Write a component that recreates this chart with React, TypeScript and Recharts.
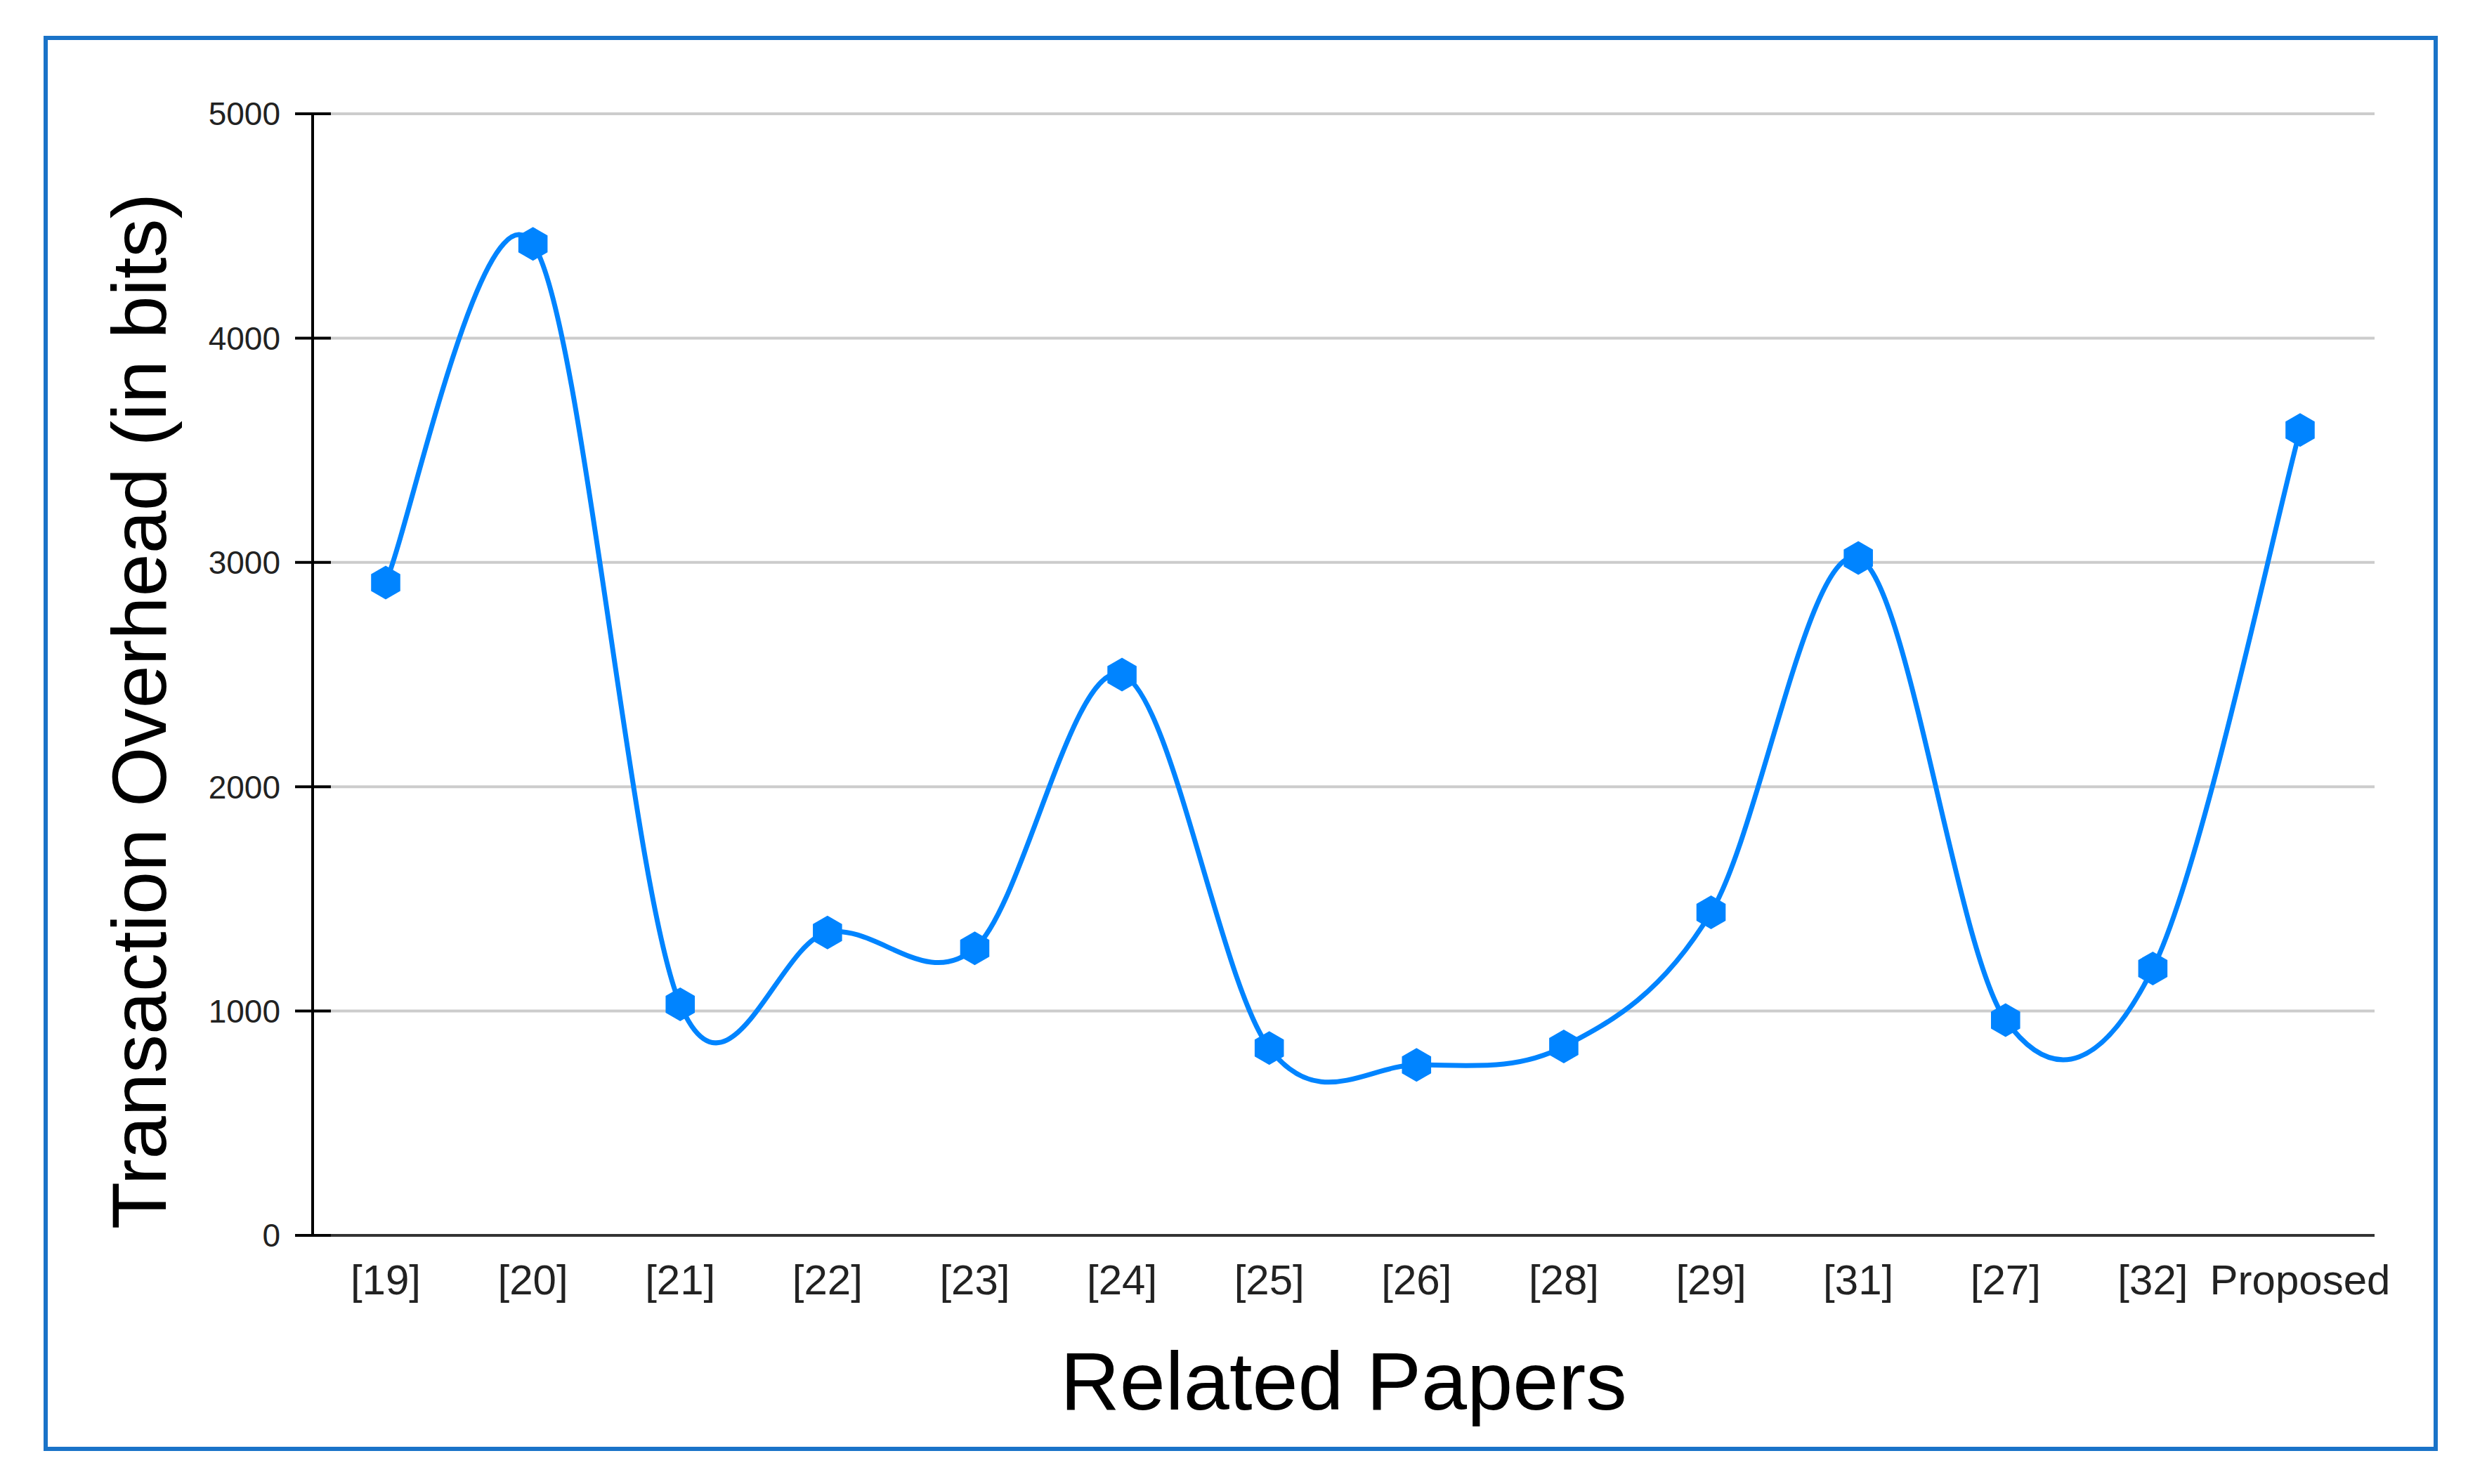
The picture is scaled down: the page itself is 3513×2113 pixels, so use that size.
import { LineChart, Line, XAxis, YAxis, CartesianGrid } from "recharts";

const categories = ["[19]", "[20]", "[21]", "[22]", "[23]", "[24]", "[25]", "[26]", "[28]", "[29]", "[31]", "[27]", "[32]", "Proposed"];
const overheadBits = [2910, 4420, 1030, 1350, 1280, 2500, 835, 760, 842, 1440, 3020, 960, 1190, 3590];
const yTicks = [0, 1000, 2000, 3000, 4000, 5000];

const data = categories.map((paper, i) => ({ paper, bits: overheadBits[i] }));

const FONT = '"Liberation Sans", Arial, sans-serif';
const BLUE = "#0084ff";

// Catmull-Rom style spline that passes through every point
function smoothCurve(context: any) {
  let pts: [number, number][] = [];
  return {
    areaStart() {},
    areaEnd() {},
    lineStart() {
      pts = [];
    },
    point(x: number, y: number) {
      pts.push([+x, +y]);
    },
    lineEnd() {
      const n = pts.length;
      if (!n) return;
      context.moveTo(pts[0][0], pts[0][1]);
      for (let i = 0; i < n - 1; i++) {
        const p0 = pts[i - 1] || pts[i];
        const p1 = pts[i];
        const p2 = pts[i + 1];
        const p3 = pts[i + 2] || p2;
        context.bezierCurveTo(
          p1[0] + (p2[0] - p0[0]) / 6,
          p1[1] + (p2[1] - p0[1]) / 6,
          p2[0] - (p3[0] - p1[0]) / 6,
          p2[1] - (p3[1] - p1[1]) / 6,
          p2[0],
          p2[1]
        );
      }
    },
  };
}

const HexDot = (props: any) => {
  const { cx, cy, index } = props;
  if (cx == null || cy == null) return null;
  const r = 24;
  const pts = [0, 1, 2, 3, 4, 5]
    .map((k) => {
      const a = (Math.PI / 180) * (60 * k - 90);
      return `${cx + r * Math.cos(a)},${cy + r * Math.sin(a)}`;
    })
    .join(" ");
  return <polygon key={`dot-${index}`} points={pts} fill={BLUE} />;
};

// y tick: label plus a tick mark that crosses the axis
const YTick = (props: any) => {
  const { x, y, payload } = props;
  return (
    <g>
      <line x1={x + 21} x2={x + 72} y1={y} y2={y} stroke="#000" strokeWidth={4} />
      <text x={x} y={y} dy="0.355em" textAnchor="end" fontSize={46} fill="#222" fontFamily={FONT}>
        {payload.value}
      </text>
    </g>
  );
};

const renderYTitle = (props: any) => {
  const vb = props && props.viewBox ? props.viewBox : { x: 0, y: 105, width: 377, height: 1597 };
  const x = vb.x + 168;
  const y = vb.y + vb.height / 2 + 52;
  return (
    <text x={x} y={y} transform={`rotate(-90 ${x} ${y})`} textAnchor="middle" fontSize={110} fontFamily={FONT} fill="#000">
      Transaction Overhead (in bits)
    </text>
  );
};

const renderXTitle = (props: any) => {
  const vb = props && props.viewBox ? props.viewBox : { x: 377, y: 1702, width: 2935, height: 301 };
  return (
    <text x={vb.x + vb.width / 2} y={vb.y + 248} textAnchor="middle" fontSize={117} fontFamily={FONT} fill="#000">
      Related Papers
    </text>
  );
};

export default function App() {
  return (
    <div style={{ padding: "43px 0 0 54px" }}>
      <div
        style={{
          width: 3408,
          height: 2015,
          boxSizing: "border-box",
          border: "6px solid #1a73c8",
          background: "#fff",
        }}
      >
        <LineChart width={3396} height={2003} data={data} margin={{ top: 105, right: 84, left: 0, bottom: 0 }}>
          <CartesianGrid vertical={false} stroke="#cccccc" strokeWidth={4} />
          <XAxis
            dataKey="paper"
            height={301}
            padding={{ left: 104, right: 106 }}
            tickLine={false}
            tickSize={0}
            tickMargin={41}
            axisLine={{ stroke: "#333", strokeWidth: 4 }}
            tick={{ fontSize: 60, fill: "#222", fontFamily: FONT }}
            interval={0}
            label={renderXTitle}
          />
          <YAxis
            width={377}
            domain={[0, 5000]}
            ticks={yTicks}
            tickLine={false}
            tickSize={25}
            tickMargin={21}
            axisLine={{ stroke: "#000", strokeWidth: 4 }}
            tick={YTick}
            label={renderYTitle}
          />
          <Line
            type={smoothCurve as any}
            dataKey="bits"
            stroke={BLUE}
            strokeWidth={7}
            dot={HexDot}
            activeDot={false}
            isAnimationActive={false}
          />
        </LineChart>
      </div>
    </div>
  );
}
